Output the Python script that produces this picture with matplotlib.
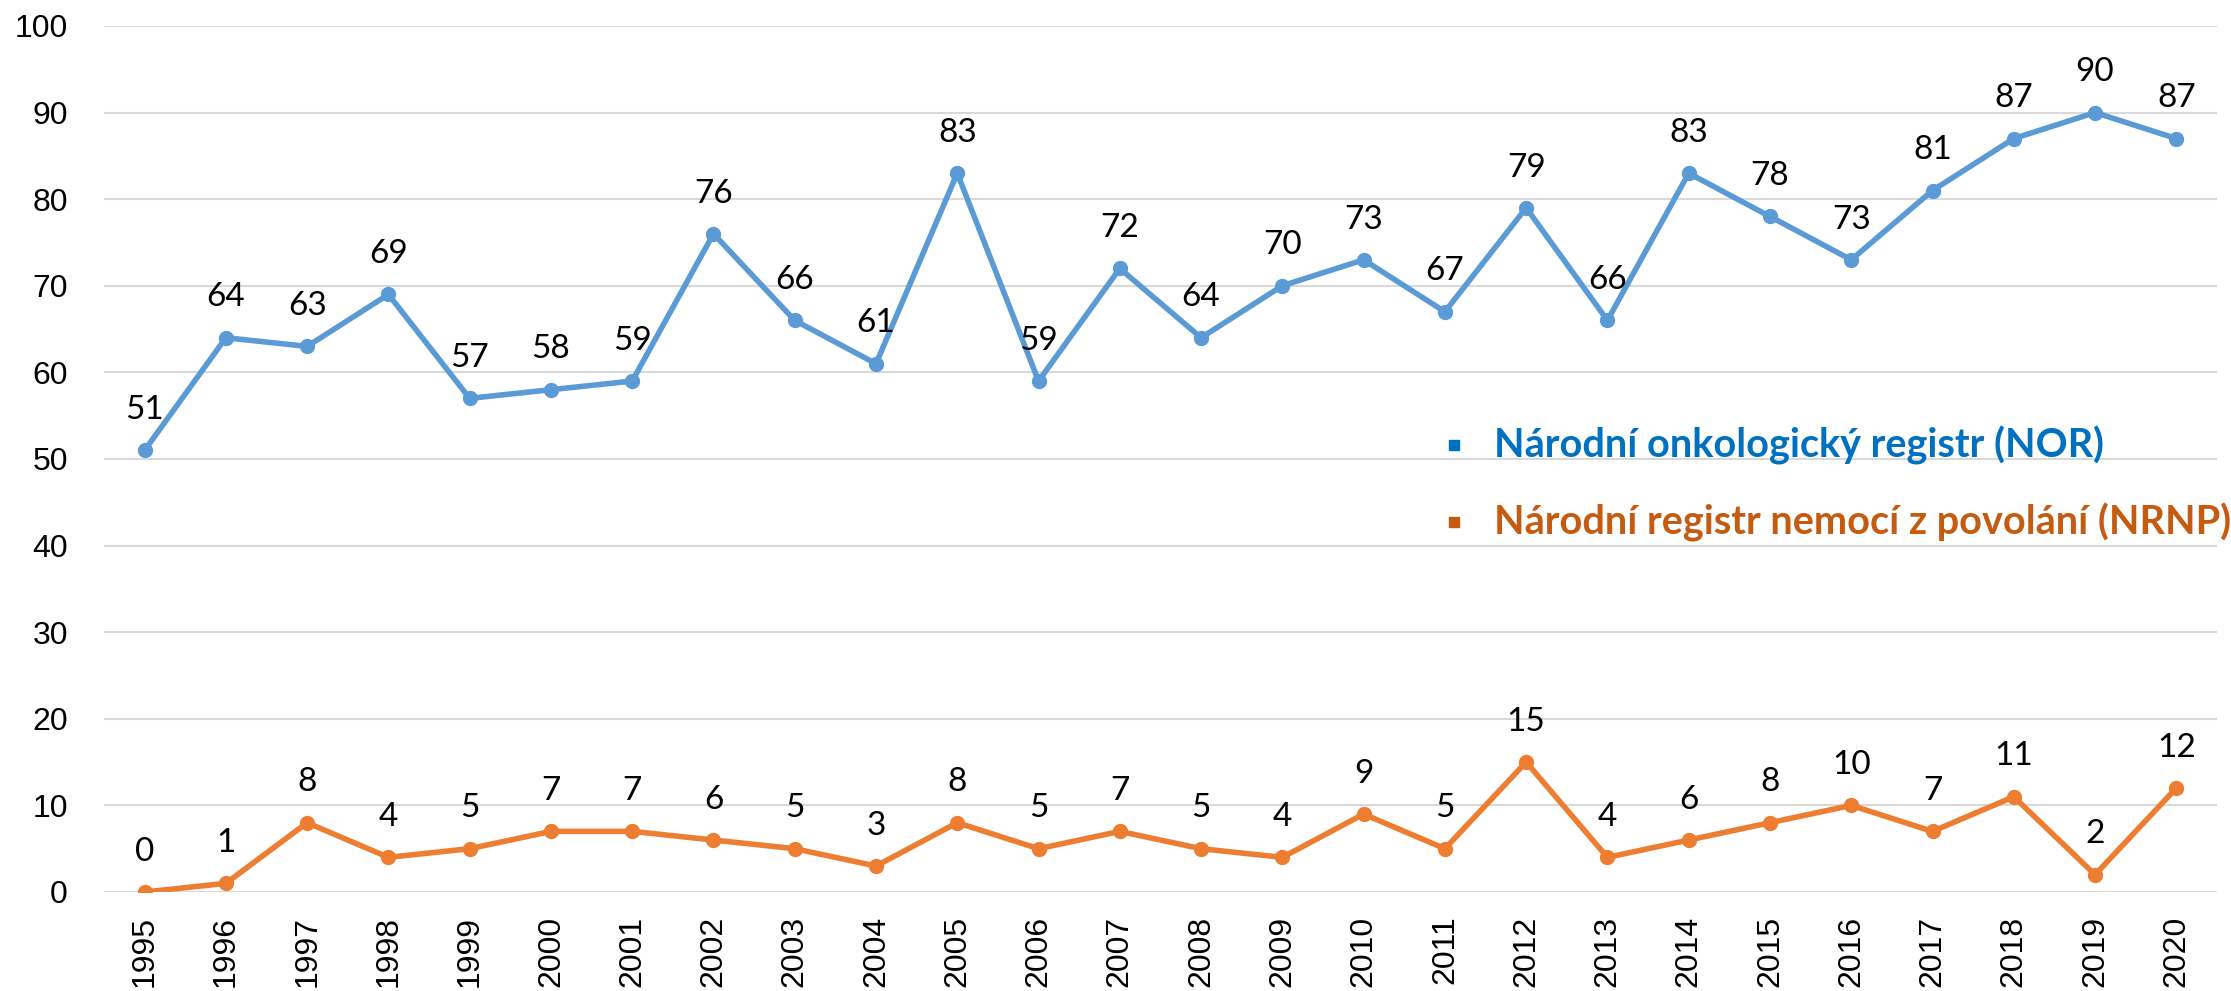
import numpy as np
import matplotlib
matplotlib.use('Agg')
import matplotlib.pyplot as plt

years = [str(y) for y in range(1995, 2021)]
nor = [51, 64, 63, 69, 57, 58, 59, 76, 66, 61, 83, 59, 72, 64, 70, 73, 67, 79, 66, 83, 78, 73, 81, 87, 90, 87]
nrnp = [0, 1, 8, 4, 5, 7, 7, 6, 5, 3, 8, 5, 7, 5, 4, 9, 5, 15, 4, 6, 8, 10, 7, 11, 2, 12]
labels = ['Národní onkologický registr (NOR)', 'Národní registr nemocí z povolání (NRNP)']

fig = plt.figure(figsize=(22.31, 9.91), dpi=100)
ax = fig.add_axes([0.0466, 0.0999, 0.9471, 0.8739])

x = np.arange(len(years))
ax.plot(x, nor, color='#5B9BD5', lw=4, marker='o', ms=10, zorder=3)
ax.plot(x, nrnp, color='#ED7D31', lw=4, marker='o', ms=10, zorder=3)

for xi, v in zip(x, nor):
    ax.annotate(str(v), (xi, v), xytext=(0, 29), textcoords='offset points',
                ha='center', va='center', fontsize=24, family='Lato')
for xi, v in zip(x, nrnp):
    ax.annotate(str(v), (xi, v), xytext=(0, 29), textcoords='offset points',
                ha='center', va='center', fontsize=24, family='Lato')

ax.set_xlim(-0.5, len(years) - 0.5)
ax.set_ylim(0, 100)
ax.set_yticks(range(0, 101, 10))
ax.set_xticks(x)
ax.set_xticklabels(years, rotation=90)
ax.tick_params(length=0, labelsize=23, pad=26)
ax.tick_params(axis='x', pad=17)
for lab in ax.get_xticklabels() + ax.get_yticklabels():
    lab.set_family('Liberation Sans')
ax.grid(axis='y', color='#D9D9D9', lw=1.5)
ax.set_axisbelow(True)
for s in ax.spines.values():
    s.set_visible(False)

# legend drawn as text entries
leg_cols = ['#0070C0', '#C55A11']
for i, (lab, c) in enumerate(zip(labels, leg_cols)):
    yy = 0.551 - i * 0.078
    ax.plot([0.6517], [yy], transform=fig.transFigure, marker='s', ms=7,
            color=c, clip_on=False)
    fig.text(0.6697, yy, lab, color=c, fontsize=28.5, fontweight='bold',
             family='Lato', va='center', ha='left')

fig.savefig('out.png', dpi=100)
